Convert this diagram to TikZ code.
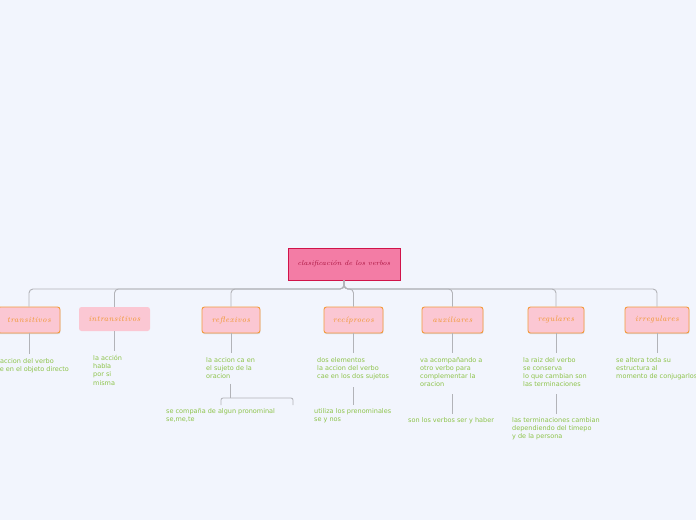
\documentclass[tikz,border=0pt]{standalone}
\usepackage{fontspec}
\newfontfamily\txtfont{DejaVu Sans}
\newfontfamily\labfont{Latin Modern Roman}[LetterSpace=6]
\usetikzlibrary{shadows,calc}
\definecolor{bgc}{HTML}{F2F5FD}
\definecolor{linec}{HTML}{B2B3B8}
\definecolor{rootfill}{HTML}{F37CA5}
\definecolor{rootdraw}{HTML}{D0134A}
\definecolor{rootlab}{HTML}{A8103C}
\definecolor{kidfill}{HTML}{FBC7D3}
\definecolor{kiddraw}{HTML}{F39A3A}
\definecolor{kidlab}{HTML}{F0952A}
\definecolor{txtc}{HTML}{8DC34A}
\tikzset{
  rootbox/.style={draw=rootdraw, fill=rootfill, line width=0.9pt, minimum width=112pt, minimum height=32pt, inner sep=0pt,
    font=\fontsize{7}{8}\selectfont\itshape, text=rootlab},
  kidbox/.style={draw=kiddraw, fill=kidfill, line width=0.9pt, rounded corners=2.5pt, minimum height=26pt, inner sep=0pt,
    font=\labfont\fontsize{8}{9}\selectfont\itshape, text=kidlab,
    drop shadow={shadow xshift=0.4pt, shadow yshift=-1.2pt, opacity=0.25}},
  plainbox/.style={fill=kidfill, rounded corners=2.5pt, minimum height=24pt, inner sep=0pt,
    font=\labfont\fontsize{8}{9}\selectfont\itshape, text=kidlab},
  txt/.style={anchor=north west, inner sep=0pt, align=left, text=txtc, font=\txtfont\fontsize{6.5}{8.2}\selectfont},
  conn/.style={draw=linec, line width=0.8pt},
  bus/.style={draw=linec, line width=0.9pt, rounded corners=4pt},
}
\begin{document}
\begin{tikzpicture}[x=1pt,y=-1pt]
\fill[bgc] (0,0) rectangle (696,520);
\useasboundingbox (0,0) rectangle (696,520);

\node[rootbox] (root) at (344,264) {clasificación de los verbos};

\node[kidbox, minimum width=62pt] (k1) at (29,320) {transitivos};
\node[plainbox, minimum width=71pt] (k2) at (114.5,319) {intransitivos};
\node[kidbox, minimum width=58pt] (k3) at (231,320) {reflexivos};
\node[kidbox, minimum width=59pt] (k4) at (353.5,320) {recíprocos};
\node[kidbox, minimum width=61pt] (k5) at (452.5,320) {auxiliares};
\node[kidbox, minimum width=56pt] (k6) at (556,320) {regulares};
\node[kidbox, minimum width=64pt] (k7) at (657,320) {irregulares};

\coordinate (busy) at (344,289);
\foreach \k in {k1,k2,k3,k4,k5,k6,k7}{
  \draw[bus] (root.south) -- (busy) -| (\k.north);
}

\node[txt] (t1) at (-8,358) {la accion del verbo\\cae en el objeto directo};
\node[txt] (t2) at (93,355) {la acción\\habla\\por si\\misma};
\node[txt] (t3) at (206,357) {la accion ca en\\el sujeto de la\\oracion};
\node[txt] (t3b) at (166,408) {se compaña de algun pronominal\\se,me,te};
\node[txt] (t4) at (317,357) {dos elementos\\la accion del verbo\\cae en los dos sujetos};
\node[txt] (t4b) at (314,408) {utiliza los prenominales\\se y nos};
\node[txt] (t5) at (420,357) {va acompañando a\\otro verbo para\\complementar la\\oracion};
\node[txt] (t5b) at (408,417) {son los verbos ser y haber};
\node[txt] (t6) at (523,357) {la raiz del verbo\\se conserva\\lo que cambian son\\las terminaciones};
\node[txt] (t6b) at (512,417) {las terminaciones cambian\\dependiendo del timepo\\y de la persona};
\node[txt] (t7) at (616,357) {se altera toda su\\estructura al\\momento de conjugarlos};

\foreach \k/\t in {k1/t1,k2/t2,k3/t3,k4/t4,k5/t5,k6/t6,k7/t7}{
  \draw[conn, shorten >=4pt] (\k.south) -- (\k.south |- \t.north);
}

% second level
\coordinate (rb) at (230,398);
\coordinate (rbl) at (221,405);
\coordinate (rbr) at (293,405);
\draw[conn, shorten <=5pt] (t3.south -| rb) -- (rb);
\draw[conn, rounded corners=2pt] (rbl) -- (rbl |- rb) -- (rbr |- rb) -- (rbr);
\draw[conn, shorten <=7pt, shorten >=3pt] (k4.south |- t4.south) -- (k4.south |- t4b.north);
\draw[conn, shorten <=7pt, shorten >=3pt] (k5.south |- t5.south) -- (k5.south |- t5b.north);
\draw[conn, shorten <=7pt, shorten >=3pt] (k6.south |- t6.south) -- (k6.south |- t6b.north);
\end{tikzpicture}
\end{document}
